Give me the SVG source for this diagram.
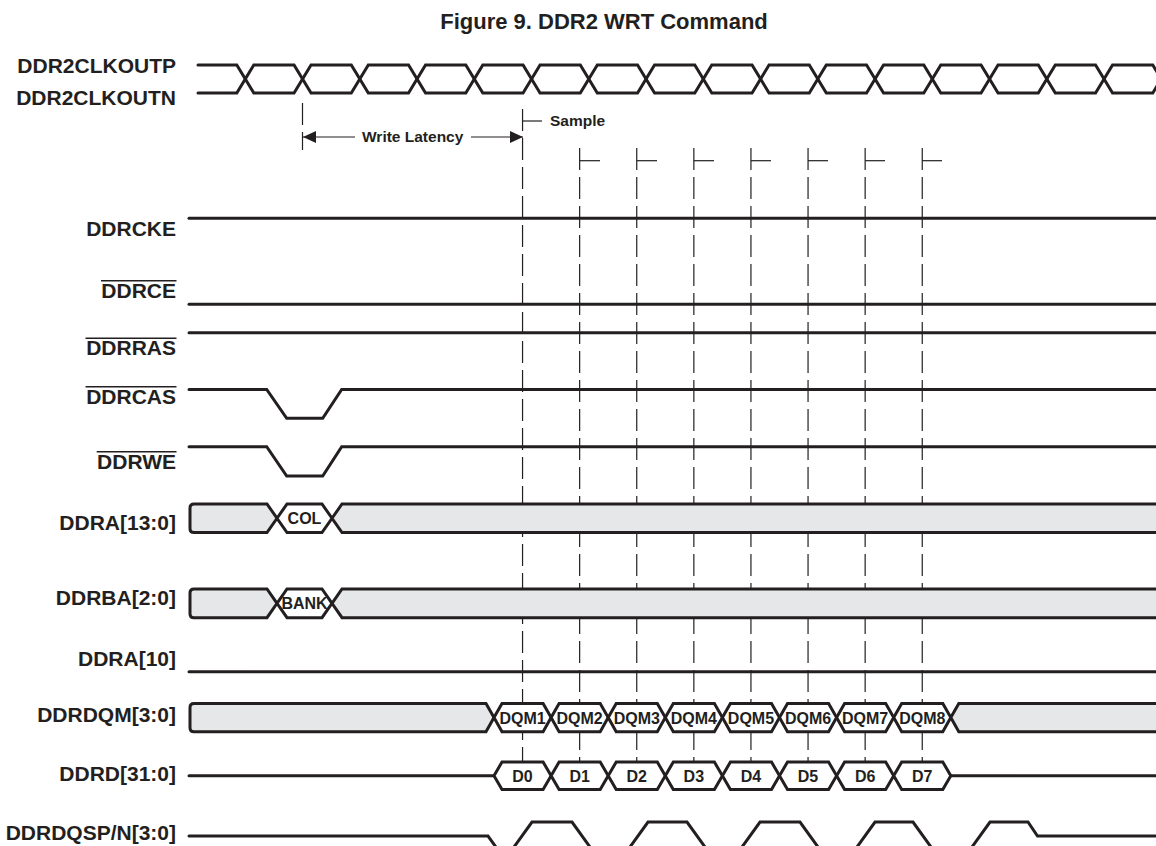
<svg xmlns="http://www.w3.org/2000/svg" width="1156" height="846" viewBox="0 0 1156 846">
<style>
.sig{fill:none;stroke:#231f20;stroke-width:3;stroke-linecap:round;stroke-linejoin:miter}
.bus{fill:#e6e7e8;stroke:#231f20;stroke-width:3;stroke-linejoin:miter}
.hex{fill:#ffffff;stroke:#231f20;stroke-width:3;stroke-linejoin:miter}
.lbl{font-family:"Liberation Sans",Arial,sans-serif;font-weight:bold;font-size:21px;fill:#231f20;text-anchor:end}
.in{font-family:"Liberation Sans",Arial,sans-serif;font-weight:bold;font-size:16px;fill:#231f20;text-anchor:middle}
.note{font-family:"Liberation Sans",Arial,sans-serif;font-weight:bold;font-size:15.5px;fill:#231f20}
.ov{stroke:#231f20;stroke-width:1.5}
.guide{fill:none;stroke:#231f20;stroke-width:1.2;stroke-dasharray:22 7}
.tick{fill:none;stroke:#231f20;stroke-width:1.2}
</style>
<defs>
<marker id="ah" markerWidth="13" markerHeight="12" refX="13" refY="6" orient="auto" markerUnits="userSpaceOnUse">
<path d="M0,0 L13,6 L0,12 Z" fill="#231f20"/>
</marker>
</defs>
<rect width="1156" height="846" fill="#ffffff"/>
<text x="604" y="29" font-family="Liberation Sans,Arial,sans-serif" font-weight="bold" font-size="22" fill="#231f20" text-anchor="middle">Figure 9. DDR2 WRT Command</text>

<g id="connectors">
<line class="guide" x1="302.5" y1="103" x2="302.5" y2="150"/>
<line class="guide" x1="522.55" y1="109" x2="522.55" y2="762"/>
<line class="guide" x1="579.65" y1="148" x2="579.65" y2="762"/>
<line class="guide" x1="636.75" y1="148" x2="636.75" y2="762"/>
<line class="guide" x1="693.85" y1="148" x2="693.85" y2="762"/>
<line class="guide" x1="750.95" y1="148" x2="750.95" y2="762"/>
<line class="guide" x1="808.05" y1="148" x2="808.05" y2="762"/>
<line class="guide" x1="865.15" y1="148" x2="865.15" y2="762"/>
<line class="guide" x1="922.25" y1="148" x2="922.25" y2="762"/>
<line class="tick" x1="522.55" y1="121" x2="542" y2="121"/>
<line class="tick" x1="579.65" y1="160.7" x2="600" y2="160.7"/>
<line class="tick" x1="636.75" y1="160.7" x2="657" y2="160.7"/>
<line class="tick" x1="693.85" y1="160.7" x2="714" y2="160.7"/>
<line class="tick" x1="750.95" y1="160.7" x2="771" y2="160.7"/>
<line class="tick" x1="808.05" y1="160.7" x2="828" y2="160.7"/>
<line class="tick" x1="865.15" y1="160.7" x2="885" y2="160.7"/>
<line class="tick" x1="922.25" y1="160.7" x2="942" y2="160.7"/>
<line class="tick" x1="355" y1="137" x2="303" y2="137" marker-end="url(#ah)"/>
<line class="tick" x1="471" y1="137" x2="523" y2="137" marker-end="url(#ah)"/>
<text class="note" x="362" y="141.5">Write Latency</text>
<text class="note" x="550" y="126">Sample</text>
</g>

<g id="clk">
<text class="lbl" x="176" y="73.3">DDR2CLKOUTP</text>
<text class="lbl" x="176" y="105">DDR2CLKOUTN</text>
<path class="sig" d="M198,65 H236.8 L253.8,93 H294.05 L311.05,65 H351.3 L368.3,93 H408.55 L425.55,65 H465.8 L482.8,93 H523.05 L540.05,65 H580.3 L597.3,93 H637.55 L654.55,65 H694.8 L711.8,93 H752.05 L769.05,65 H809.3 L826.3,93 H866.55 L883.55,65 H923.8 L940.8,93 H981.05 L998.05,65 H1038.3 L1055.3,93 H1095.55 L1112.55,65 H1152.8 L1169.8,93"/>
<path class="sig" d="M198,93 H236.8 L253.8,65 H294.05 L311.05,93 H351.3 L368.3,65 H408.55 L425.55,93 H465.8 L482.8,65 H523.05 L540.05,93 H580.3 L597.3,65 H637.55 L654.55,93 H694.8 L711.8,65 H752.05 L769.05,93 H809.3 L826.3,65 H866.55 L883.55,93 H923.8 L940.8,65 H981.05 L998.05,93 H1038.3 L1055.3,65 H1095.55 L1112.55,93 H1152.8 L1169.8,65"/>
</g>

<g id="ddrcke">
<text class="lbl" x="176" y="235.5">DDRCKE</text>
<path class="sig" d="M189,218.3 H1160"/>
</g>

<g id="ddrce">
<text class="lbl" x="176" y="298">DDRCE</text>
<line class="ov" x1="101" y1="280.7" x2="176.5" y2="280.7"/>
<path class="sig" d="M189,304.2 H1160"/>
</g>

<g id="ddrras">
<text class="lbl" x="176" y="355">DDRRAS</text>
<line class="ov" x1="85.5" y1="338.3" x2="176.5" y2="338.3"/>
<path class="sig" d="M189,332.7 H1160"/>
</g>

<g id="ddrcas">
<text class="lbl" x="176" y="404">DDRCAS</text>
<line class="ov" x1="85.5" y1="386.7" x2="176.5" y2="386.7"/>
<path class="sig" d="M189,389.5 H266.7 L286.7,418.3 H322.7 L341.7,389.5 H1160"/>
</g>

<g id="ddrwe">
<text class="lbl" x="176" y="469.3">DDRWE</text>
<line class="ov" x1="96.7" y1="451.7" x2="176.5" y2="451.7"/>
<path class="sig" d="M189,446.7 H266.7 L286.7,476 H322.7 L341.7,446.7 H1160"/>
</g>

<g id="ddra">
<text class="lbl" x="176" y="530">DDRA[13:0]</text>
<path class="bus" d="M194,504 H267 L277,518.25 L267,532.5 H194 Q190,532.5 190,528.5 V508 Q190,504 194,504 Z"/>
<path class="hex" d="M277,518.25 L287,504 H322 L332,518.25 L322,532.5 H287 Z"/>
<path class="bus" d="M332,518.25 L342,504 H1162 V532.5 H342 Z"/>
<text class="in" x="304.5" y="524">COL</text>
</g>

<g id="ddrba">
<text class="lbl" x="176" y="605">DDRBA[2:0]</text>
<path class="bus" d="M194,589 H267 L277,603.35 L267,617.7 H194 Q190,617.7 190,613.7 V593 Q190,589 194,589 Z"/>
<path class="hex" d="M277,603.35 L287,589 H322 L332,603.35 L322,617.7 H287 Z"/>
<path class="bus" d="M332,603.35 L342,589 H1162 V617.7 H342 Z"/>
<text class="in" x="304.5" y="609" font-size="15">BANK</text>
</g>

<g id="ddra10">
<text class="lbl" x="176" y="666">DDRA[10]</text>
<path class="sig" d="M189,671.7 H1160"/>
</g>

<g id="ddrdqm">
<text class="lbl" x="176" y="721.7">DDRDQM[3:0]</text>
<path class="bus" d="M194,703.5 H486 L494,717.6 L486,731.7 H194 Q190,731.7 190,727.7 V707.5 Q190,703.5 194,703.5 Z"/>
<path class="hex" d="M494,717.6 L502,703.5 H543.1 L551.1,717.6 L543.1,731.7 H502 Z"/>
<path class="hex" d="M551.1,717.6 L559.1,703.5 H600.2 L608.2,717.6 L600.2,731.7 H559.1 Z"/>
<path class="hex" d="M608.2,717.6 L616.2,703.5 H657.3 L665.3,717.6 L657.3,731.7 H616.2 Z"/>
<path class="hex" d="M665.3,717.6 L673.3,703.5 H714.4 L722.4,717.6 L714.4,731.7 H673.3 Z"/>
<path class="hex" d="M722.4,717.6 L730.4,703.5 H771.5 L779.5,717.6 L771.5,731.7 H730.4 Z"/>
<path class="hex" d="M779.5,717.6 L787.5,703.5 H828.6 L836.6,717.6 L828.6,731.7 H787.5 Z"/>
<path class="hex" d="M836.6,717.6 L844.6,703.5 H885.7 L893.7,717.6 L885.7,731.7 H844.6 Z"/>
<path class="hex" d="M893.7,717.6 L901.7,703.5 H942.8 L950.8,717.6 L942.8,731.7 H901.7 Z"/>
<path class="bus" d="M950.8,717.6 L958.8,703.5 H1162 V731.7 H958.8 Z"/>
<text class="in" x="522.55" y="723.5">DQM1</text>
<text class="in" x="579.65" y="723.5">DQM2</text>
<text class="in" x="636.75" y="723.5">DQM3</text>
<text class="in" x="693.85" y="723.5">DQM4</text>
<text class="in" x="750.95" y="723.5">DQM5</text>
<text class="in" x="808.05" y="723.5">DQM6</text>
<text class="in" x="865.15" y="723.5">DQM7</text>
<text class="in" x="922.25" y="723.5">DQM8</text>
</g>

<g id="ddrd">
<text class="lbl" x="176" y="780.5">DDRD[31:0]</text>
<path class="sig" d="M189,775.75 H494"/>
<path class="hex" d="M494,775.75 L502,762 H543.1 L551.1,775.75 L543.1,789.5 H502 Z"/>
<path class="hex" d="M551.1,775.75 L559.1,762 H600.2 L608.2,775.75 L600.2,789.5 H559.1 Z"/>
<path class="hex" d="M608.2,775.75 L616.2,762 H657.3 L665.3,775.75 L657.3,789.5 H616.2 Z"/>
<path class="hex" d="M665.3,775.75 L673.3,762 H714.4 L722.4,775.75 L714.4,789.5 H673.3 Z"/>
<path class="hex" d="M722.4,775.75 L730.4,762 H771.5 L779.5,775.75 L771.5,789.5 H730.4 Z"/>
<path class="hex" d="M779.5,775.75 L787.5,762 H828.6 L836.6,775.75 L828.6,789.5 H787.5 Z"/>
<path class="hex" d="M836.6,775.75 L844.6,762 H885.7 L893.7,775.75 L885.7,789.5 H844.6 Z"/>
<path class="hex" d="M893.7,775.75 L901.7,762 H942.8 L950.8,775.75 L942.8,789.5 H901.7 Z"/>
<path class="sig" d="M950.8,775.75 H1160"/>
<text class="in" x="522.55" y="781.5">D0</text>
<text class="in" x="579.65" y="781.5">D1</text>
<text class="in" x="636.75" y="781.5">D2</text>
<text class="in" x="693.85" y="781.5">D3</text>
<text class="in" x="750.95" y="781.5">D4</text>
<text class="in" x="808.05" y="781.5">D5</text>
<text class="in" x="865.15" y="781.5">D6</text>
<text class="in" x="922.25" y="781.5">D7</text>
</g>

<g id="ddrdqs">
<text class="lbl" x="176" y="840">DDRDQSP/N[3:0]</text>
<path class="sig" d="M189,836 H488 L499.5,852 H510.4 L532,822 H572 L593.6,852 H626.4 L648,822 H687 L708.6,852 H738.4 L760,822 H800 L821.6,852 H853.4 L875,822 H913 L934.6,852 H968.4 L990,822 H1028 L1037.5,836 H1160"/>
</g>
</svg>
